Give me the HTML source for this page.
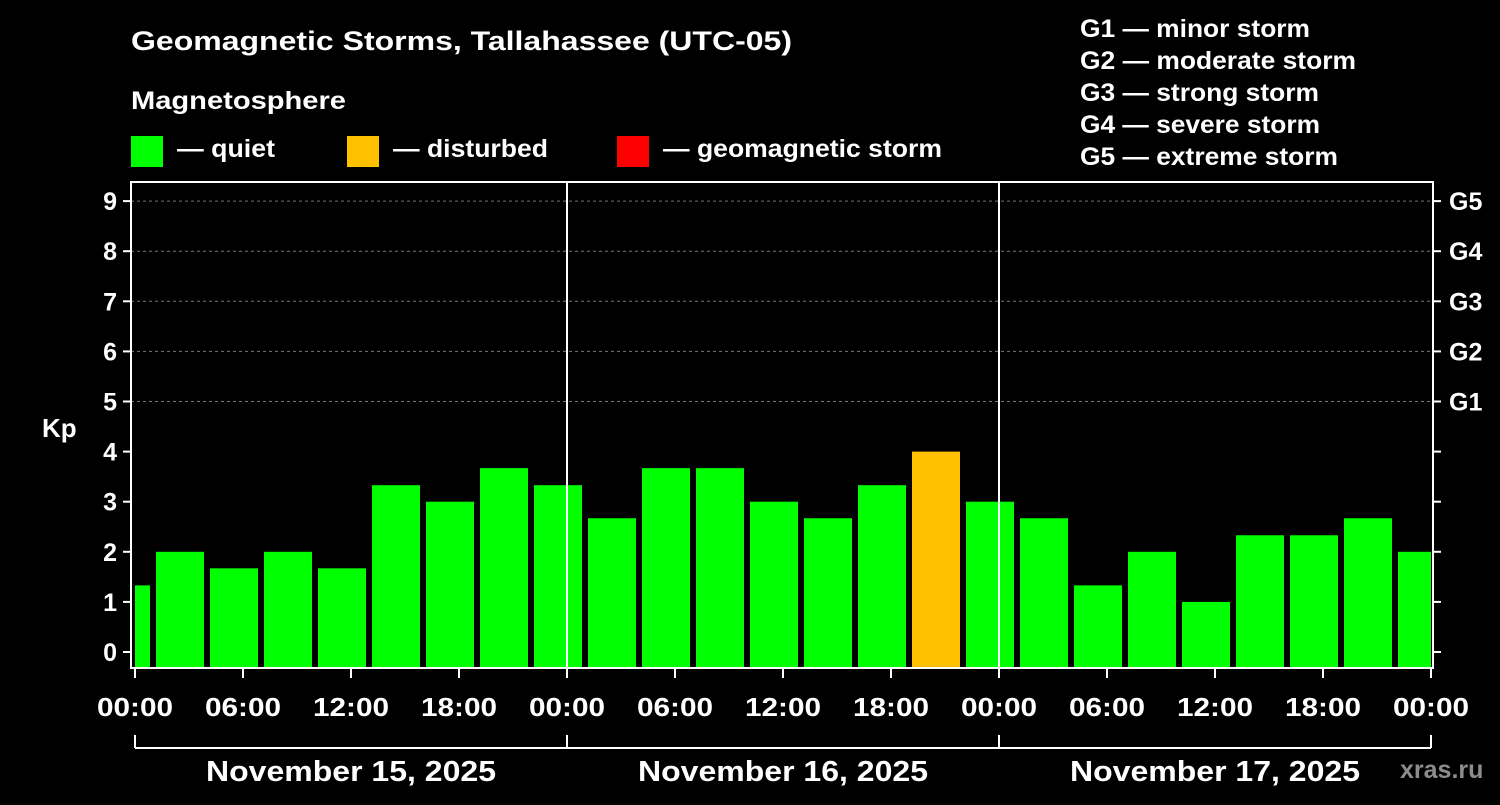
<!DOCTYPE html>
<html><head><meta charset="utf-8"><style>
body{margin:0;background:#000;width:1500px;height:800px;overflow:hidden}
svg text{font-family:"Liberation Sans",Arial,sans-serif;font-weight:bold;fill:#fff}
</style></head><body>
<svg id="c" width="1500" height="800" xmlns="http://www.w3.org/2000/svg">
<rect width="1500" height="800" fill="#000"/>
<text x="131" y="50" font-size="27" textLength="661" lengthAdjust="spacingAndGlyphs">Geomagnetic Storms, Tallahassee (UTC-05)</text>
<text x="131" y="109" font-size="25" textLength="215" lengthAdjust="spacingAndGlyphs">Magnetosphere</text>
<g><rect x="131" y="136" width="32" height="31" fill="#00ff00"/><text x="177" y="157" font-size="25" textLength="98" lengthAdjust="spacingAndGlyphs">— quiet</text></g>
<g><rect x="347" y="136" width="32" height="31" fill="#ffc000"/><text x="393" y="157" font-size="25" textLength="155" lengthAdjust="spacingAndGlyphs">— disturbed</text></g>
<g><rect x="617" y="136" width="32" height="31" fill="#ff0000"/><text x="663" y="157" font-size="25" textLength="279" lengthAdjust="spacingAndGlyphs">— geomagnetic storm</text></g>
<g font-size="25">
<text x="1080" y="37" textLength="230" lengthAdjust="spacingAndGlyphs">G1 — minor storm</text><text x="1080" y="69" textLength="276" lengthAdjust="spacingAndGlyphs">G2 — moderate storm</text><text x="1080" y="101" textLength="239" lengthAdjust="spacingAndGlyphs">G3 — strong storm</text><text x="1080" y="133" textLength="240" lengthAdjust="spacingAndGlyphs">G4 — severe storm</text><text x="1080" y="165" textLength="258" lengthAdjust="spacingAndGlyphs">G5 — extreme storm</text></g>
<text x="42" y="437" font-size="26">Kp</text>
<text x="1400" y="778" font-size="25" style="fill:#8c8c8c">xras.ru</text>
<g id="g"></g>
</svg>
<script>
const kpValues=[1.33,2,1.67,2,1.67,3.33,3,3.67,3.33,2.67,3.67,3.67,3,2.67,3.33,4,3,2.67,1.33,2,1,2.33,2.33,2.67,2];
const firstBarHour=-2;
const yTicks=[0,1,2,3,4,5,6,7,8,9];
const gLabels=["G1","G2","G3","G4","G5"];
const xTickLabels=["00:00","06:00","12:00","18:00","00:00","06:00","12:00","18:00","00:00","06:00","12:00","18:00","00:00"];
const dayLabels=["November 15, 2025","November 16, 2025","November 17, 2025"];
const L=131,R=1433,T=182,B=668,X0=135,X1=1431;
const xs=h=>X0+(X1-X0)*h/72;
const ys=v=>652-v*50.1;
const NS="http://www.w3.org/2000/svg",g=document.getElementById('g');
function el(t,a){const e=document.createElementNS(NS,t);for(const k in a)e.setAttribute(k,a[k]);g.appendChild(e);return e;}
yTicks.forEach(v=>{if(v>=5){const l=el('line',{x1:L,x2:R,y1:ys(v),y2:ys(v),stroke:'#777','stroke-dasharray':'3,3'});

}});
kpValues.forEach((v,i)=>{const h0=firstBarHour+i*3;let a=Math.max(xs(h0)+3,X0),b=Math.min(xs(h0+3)-3,X1);
const r=el('rect',{x:a,y:ys(v),width:b-a,height:B-ys(v),fill:v>=5?'#ff0000':v>=4?'#ffc000':'#00ff00'});

});
[24,48].forEach(h=>{const l=el('line',{x1:xs(h),x2:xs(h),y1:T,y2:B,stroke:'#fff','stroke-width':2});

});
const fr=el('rect',{x:L,y:T,width:R-L,height:B-T,fill:'none',stroke:'#fff','stroke-width':2});


yTicks.forEach(v=>{el('line',{x1:L-8,x2:L,y1:ys(v),y2:ys(v),stroke:'#fff','stroke-width':2});
el('line',{x1:R,x2:R+8,y1:ys(v),y2:ys(v),stroke:'#fff','stroke-width':2});
const t=el('text',{x:L-14,y:ys(v)+9,'font-size':25,'text-anchor':'end'});t.textContent=v;

});
gLabels.forEach((s,i)=>{const t=el('text',{x:1449,y:ys(5+i)+9,'font-size':25});t.textContent=s;

});
xTickLabels.forEach((s,i)=>{const x=xs(i*6);el('line',{x1:x,x2:x,y1:B,y2:B+10,stroke:'#fff','stroke-width':2});
const t=el('text',{x:x-38,y:716,'font-size':26,textLength:76,lengthAdjust:'spacingAndGlyphs'});t.textContent=s;

});
el('line',{x1:X0,x2:X1,y1:748,y2:748,stroke:'#fff','stroke-width':2});
[0,24,48,72].forEach(h=>el('line',{x1:xs(h),x2:xs(h),y1:735,y2:748,stroke:'#fff','stroke-width':2}));
dayLabels.forEach((s,i)=>{const t=el('text',{x:xs(i*24+12)-145,y:781,'font-size':29,textLength:290,lengthAdjust:'spacingAndGlyphs'});t.textContent=s;

});
</script>
</body></html>
